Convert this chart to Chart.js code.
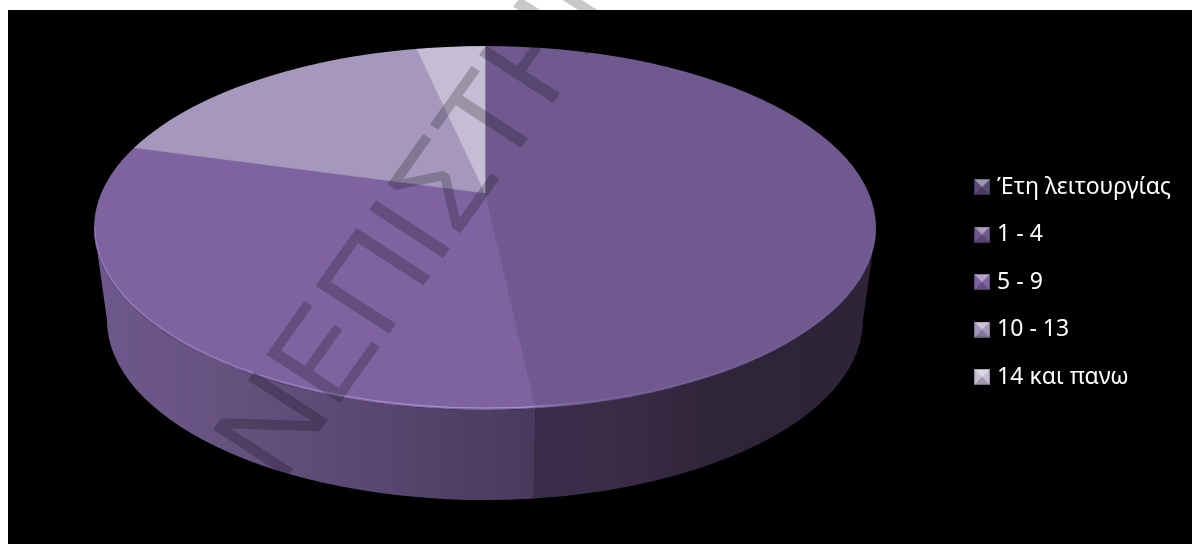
<!DOCTYPE html>
<html>
<head>
<meta charset="utf-8">
<title>Έτη λειτουργίας</title>
<script src="https://cdn.jsdelivr.net/npm/chart.js@4"></script>
<style>
   html, body { margin: 0; padding: 0; background: #fff; }
   canvas { display: block; }
</style>
</head>
<body>
<canvas id="pieChart" width="1192" height="544"></canvas>
<script>
const categories = ['Έτη λειτουργίας', '1 - 4', '5 - 9', '10 - 13', '14 και πανω'];
const seriesValues = [0, 14, 9, 5, 1];
const sliceColors = ['#5b4a75', '#70598f', '#7f63a1', '#a698bc', '#c5bdd4'];
const watermarkText = 'ΝΕΠΙΣΤΗΜΙΟ';

// top face of the disc, the wedges meet above its middle because of the perspective
const face = { cx: 485, cy: 228, rx: 391, ry: 182 };
const apex = { x: 485, y: 193 };
const squash = face.ry / face.rx;
// lower rim of the side wall
const base = { cx: 485, cy: 320, rx: 378, ry: 180 };

// side wall shading, left to right, per slice
const wallStops = {
   1: [[0, '#3a2e4b'], [0.3, '#3b2a45'], [0.5, '#2f2539'], [1, '#2d2438']],
   2: [[0, '#6e588c'], [0.3, '#66527f'], [0.6, '#5a4873'], [1, '#483a5c']]
};

// where a wedge edge leaves the top face, as an angle on the ellipse
function rimAngle(angle) {
   let c = Math.cos(angle), s = Math.sin(angle) * squash;
   let dx = apex.x - face.cx, dy = apex.y - face.cy;
   let A = (c * c) / (face.rx * face.rx) + (s * s) / (face.ry * face.ry);
   let B = 2 * (dx * c / (face.rx * face.rx) + dy * s / (face.ry * face.ry));
   let C = (dx * dx) / (face.rx * face.rx) + (dy * dy) / (face.ry * face.ry) - 1;
   let d = (-B + Math.sqrt(B * B - 4 * A * C)) / (2 * A);
   return Math.atan2((dy + d * s) / face.ry, (dx + d * c) / face.rx);
}

// part of a slice that shows on the front half of the disc
function frontRange(arc) {
   if (arc.endAngle - arc.startAngle <= 0) return null;
   let t1 = rimAngle(arc.startAngle), t2 = rimAngle(arc.endAngle);
   if (t2 < t1) t2 += Math.PI * 2;
   let lo = Math.max(t1, 0), hi = Math.min(t2, Math.PI);
   return hi > lo ? [lo, hi] : null;
}

const discPlugin = {
   id: 'disc',
   beforeDraw(chart) {
      let ctx = chart.ctx;
      ctx.save();
      ctx.fillStyle = '#fff';
      ctx.fillRect(0, 0, chart.width, chart.height);
      ctx.fillStyle = '#000';
      ctx.fillRect(8, 10, chart.width - 8, chart.height - 10);
      ctx.restore();
   },
   beforeDatasetsDraw(chart) {
      let ctx = chart.ctx;
      let arcs = chart.getDatasetMeta(0).data;

      // side wall, one piece per slice
      arcs.forEach(function (arc, i) {
         let range = frontRange(arc);
         if (!range || !wallStops[i]) return;
         let lo = range[0], hi = range[1];
         let x0 = face.cx + face.rx * Math.cos(hi), x1 = face.cx + face.rx * Math.cos(lo);
         let grad = ctx.createLinearGradient(x0, 0, x1, 0);
         wallStops[i].forEach(function (stop) { grad.addColorStop(stop[0], stop[1]); });
         ctx.save();
         ctx.beginPath();
         ctx.ellipse(face.cx, face.cy, face.rx, face.ry, 0, lo, hi);
         ctx.ellipse(base.cx, base.cy, base.rx, base.ry, 0, hi, lo, true);
         ctx.closePath();
         ctx.fillStyle = grad;
         ctx.fill();
         ctx.restore();
      });

      // wedges are drawn oversized and cut back to the top face
      let arc = arcs[0];
      ctx.save();
      ctx.beginPath();
      ctx.ellipse(face.cx, face.cy, face.rx, face.ry, 0, 0, Math.PI * 2);
      ctx.clip();
      ctx.translate(apex.x, apex.y);
      ctx.scale(1, squash);
      ctx.translate(-arc.x, -arc.y);
   },
   afterDatasetsDraw(chart) {
      let ctx = chart.ctx;
      ctx.restore();

      // soft highlight on the front edge of the top face
      let glow = ctx.createLinearGradient(face.cx - face.rx, 0, face.cx + face.rx, 0);
      glow.addColorStop(0, 'rgba(170,145,210,0.45)');
      glow.addColorStop(0.55, 'rgba(190,165,225,0.7)');
      glow.addColorStop(0.62, 'rgba(150,125,185,0.35)');
      glow.addColorStop(1, 'rgba(130,105,165,0.25)');
      ctx.save();
      ctx.strokeStyle = glow;
      ctx.lineWidth = 1.2;
      ctx.beginPath();
      ctx.ellipse(face.cx, face.cy - 1, face.rx - 1, face.ry - 1, 0, 0, Math.PI);
      ctx.stroke();
      ctx.restore();
   },
   afterDraw(chart) {
      // diagonal watermark with a slight slant, darkens whatever lies under it
      let ctx = chart.ctx;
      ctx.save();
      ctx.globalCompositeOperation = 'multiply';
      ctx.transform(0.579, -0.815, 0.846, 0.549, 281, 486);
      ctx.font = '127px "Liberation Sans"';
      ctx.textBaseline = 'alphabetic';
      ctx.fillStyle = '#c8c8c8';
      ctx.fillText(watermarkText, 0, 0);
      ctx.restore();
   }
};

// small bevelled square used as legend marker
function bevelMarker(color) {
   let size = 16;
   let c = document.createElement('canvas');
   c.width = size;
   c.height = size;
   let g = c.getContext('2d');
   g.fillStyle = color;
   g.fillRect(0, 0, size, size);
   let tri = function (pts, shade) {
      g.beginPath();
      g.moveTo(pts[0][0], pts[0][1]);
      g.lineTo(pts[1][0], pts[1][1]);
      g.lineTo(size / 2, size / 2);
      g.closePath();
      g.fillStyle = shade;
      g.fill();
   };
   tri([[0, 0], [size, 0]], 'rgba(255,255,255,0.42)');
   tri([[0, size], [size, size]], 'rgba(0,0,0,0.2)');
   g.strokeStyle = 'rgba(0,0,0,0.25)';
   g.strokeRect(0.5, 0.5, size - 1, size - 1);
   return c;
}

const markers = sliceColors.map(bevelMarker);

const ctx = document.getElementById('pieChart').getContext('2d');
const pieChart = new Chart(ctx, {
   type: 'pie',
   data: {
      labels: categories,
      datasets: [{
         data: seriesValues,
         backgroundColor: sliceColors,
         borderColor: sliceColors,
         borderWidth: [0, 1, 1, 1, 1],
         hoverOffset: 0,
         radius: 700,
         clip: false
      }]
   },
   options: {
      responsive: false,
      animation: false,
      layout: { padding: { top: 20, right: 11 } },
      plugins: {
         tooltip: { enabled: false },
         legend: {
            position: 'right',
            labels: {
               color: '#ffffff',
               font: { family: '"Noto Sans"', size: 23 },
               usePointStyle: true,
               pointStyleWidth: 7,
               padding: 24.5,
               generateLabels(chart) {
                  let items = Chart.overrides.pie.plugins.legend.labels.generateLabels(chart);
                  items.forEach(function (item, i) {
                     item.pointStyle = markers[i];
                     item.hidden = false;
                  });
                  return items;
               }
            }
         }
      }
   },
   plugins: [discPlugin]
});
</script>
</body>
</html>
